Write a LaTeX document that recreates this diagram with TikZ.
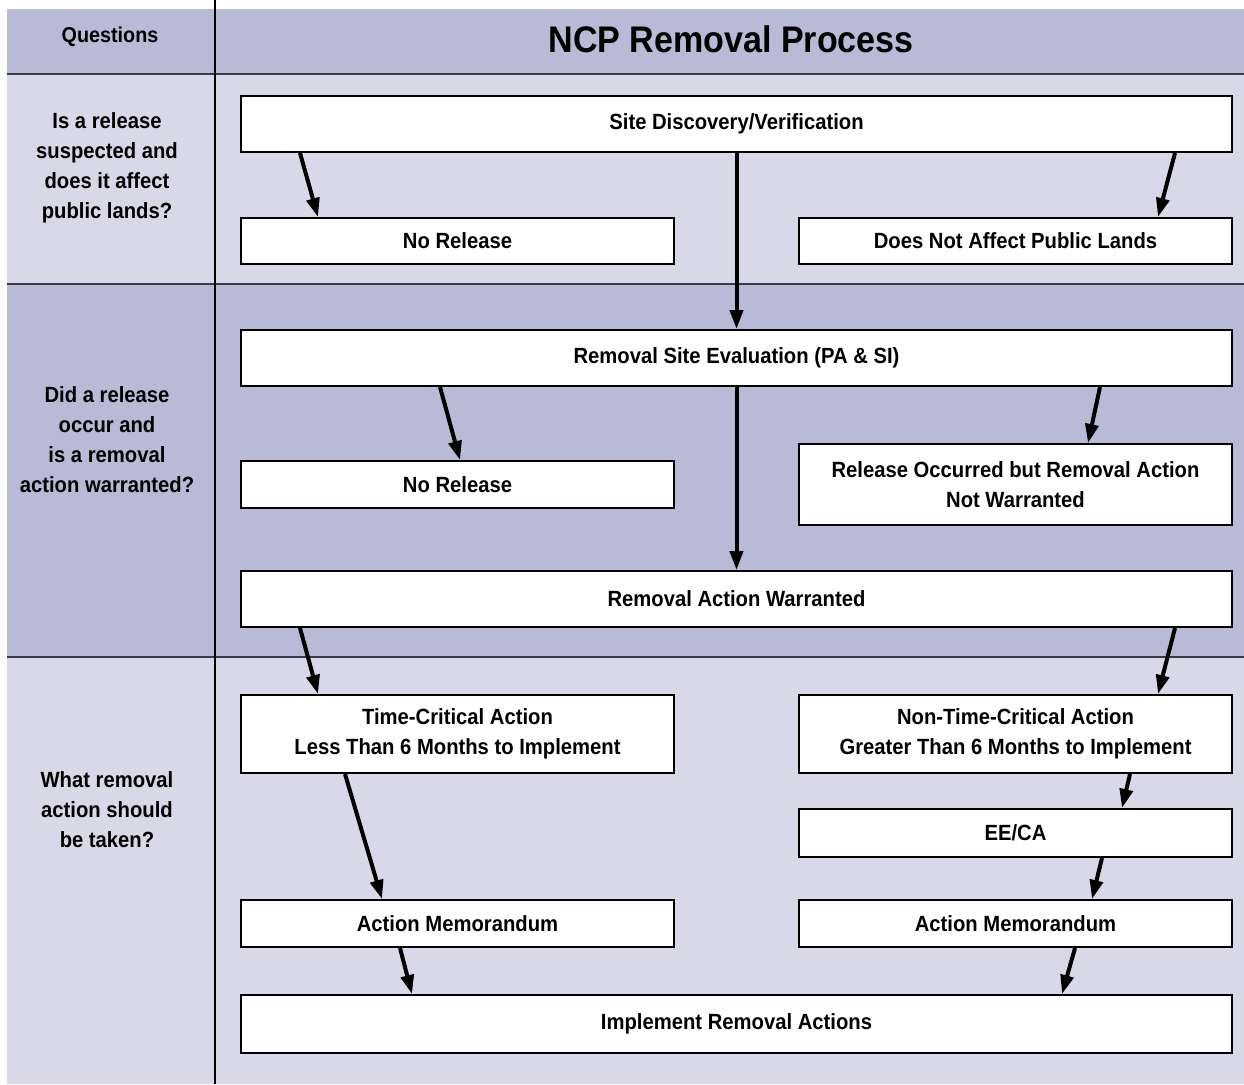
\documentclass[tikz,border=0pt]{standalone}
\usepackage{fontspec}
\newfontfamily\nf{Liberation Sans}[FakeStretch=0.92]
\usetikzlibrary{arrows.meta}
\definecolor{bandlight}{HTML}{D8D8E8}
\definecolor{banddark}{HTML}{B8BAD6}
\definecolor{sepline}{HTML}{3A3A48}
\tikzset{
  box/.style={draw=black, line width=2pt, fill=white, inner sep=0pt, align=center,
    font=\nf\bfseries\fontsize{22}{30}\selectfont},
  wide/.style={box, minimum width=991pt},
  half/.style={box, minimum width=433pt},
  flow/.style={line width=4pt, -{Triangle[length=19pt,width=13pt]}},
  qtext/.style={align=center, font=\nf\bfseries\fontsize{22}{30}\selectfont, inner sep=0pt},
}
\begin{document}
\begin{tikzpicture}[x=1pt,y=-1pt]
\useasboundingbox (0,0) rectangle (1244,1084);
\fill[white] (0,0) rectangle (1244,1084);
% bands
\fill[banddark] (7,9) rectangle (1244,74);
\fill[bandlight] (7,74) rectangle (1244,284);
\fill[banddark] (7,284) rectangle (1244,657);
\fill[bandlight] (7,657) rectangle (1244,1084);
\draw[sepline, line width=1.5pt] (7,74) -- (1244,74);
\draw[sepline, line width=1.5pt] (7,284) -- (1244,284);
\draw[sepline, line width=1.5pt] (7,657) -- (1244,657);
\draw[black, line width=1.2pt] (215,0) -- (215,1084);
% header
\node[qtext, font=\nf\bfseries\fontsize{21.5}{26}\selectfont] (hq) at (110,37) {Questions};
\node[qtext, font=\nf\bfseries\fontsize{37}{44}\selectfont] (ht) at (731,39) {NCP Removal Process};
% questions
\node[qtext] (q1) at (107,168) {Is a release\\suspected and\\does it affect\\public lands?};
\node[qtext] (q2) at (107,440) {Did a release\\occur and\\is a removal\\action warranted?};
\node[qtext] (q3) at (107,810) {What removal\\action should\\be taken?};
% boxes
\node[wide, minimum height=56pt] (sdv) at (736.5,124) {Site Discovery/Verification};
\node[half, minimum height=46pt] (nr1) at (457.5,241) {No Release};
\node[half, minimum height=46pt] (dna) at (1015.5,241) {Does Not Affect Public Lands};
\node[wide, minimum height=56pt] (rse) at (736.5,358) {Removal Site Evaluation (PA \& SI)};
\node[half, minimum height=47pt] (nr2) at (457.5,484.5) {No Release};
\node[half, minimum height=81pt] (roc) at (1015.5,484.5) {Release Occurred but Removal Action\\Not Warranted};
\node[wide, minimum height=56pt] (raw) at (736.5,599) {Removal Action Warranted};
\node[half, minimum height=78pt] (tca) at (457.5,734) {Time-Critical Action\\Less Than 6 Months to Implement};
\node[half, minimum height=78pt] (ntca) at (1015.5,734) {Non-Time-Critical Action\\Greater Than 6 Months to Implement};
\node[half, minimum height=48pt] (eeca) at (1015.5,833) {EE/CA};
\node[half, minimum height=47pt] (am1) at (457.5,923.5) {Action Memorandum};
\node[half, minimum height=47pt] (am2) at (1015.5,923.5) {Action Memorandum};
\node[wide, minimum height=58pt] (ira) at (736.5,1024) {Implement Removal Actions};
% connectors
\draw[flow] ([xshift=-436.5pt]sdv.south) -- ([xshift=-139.5pt]nr1.north);
\draw[flow] ([xshift=438.5pt]sdv.south) -- ([xshift=142.5pt]dna.north);
\draw[flow] (sdv.south) -- (rse.north);
\draw[flow] ([xshift=-296.5pt]rse.south) -- ([xshift=2.5pt]nr2.north);
\draw[flow] ([xshift=363.5pt]rse.south) -- ([xshift=72.5pt]roc.north);
\draw[flow] (rse.south) -- (raw.north);
\draw[flow] ([xshift=-436.5pt]raw.south) -- ([xshift=-139.5pt]tca.north);
\draw[flow] ([xshift=438.5pt]raw.south) -- ([xshift=142.5pt]ntca.north);
\draw[flow] ([xshift=-112.5pt]tca.south) -- ([xshift=-75.5pt]am1.north);
\draw[flow] ([xshift=114.5pt]ntca.south) -- ([xshift=106.5pt]eeca.north);
\draw[flow] ([xshift=86.5pt]eeca.south) -- ([xshift=76.5pt]am2.north);
\draw[flow] ([xshift=-57.5pt]am1.south) -- ([xshift=-324.5pt]ira.north);
\draw[flow] ([xshift=59.5pt]am2.south) -- ([xshift=325.5pt]ira.north);
\end{tikzpicture}
\end{document}
